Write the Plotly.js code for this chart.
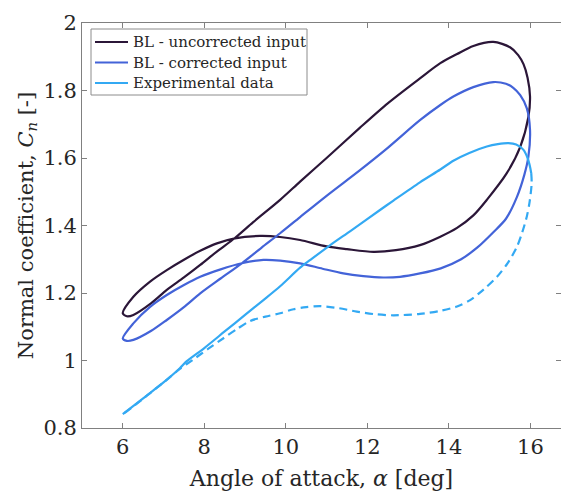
<!DOCTYPE html>
<html>
<head>
<meta charset="utf-8">
<script src="https://cdn.plot.ly/plotly-3.0.1.min.js"></script>
<style>html,body{margin:0;padding:0;background:#fff;}#chart{width:561px;height:491px;}</style>
</head>
<body>
<div id="chart"></div>
<script>
// BL - uncorrected input (closed hysteresis loop)
const uncorrAlpha = [6.0, 6.1, 6.26, 6.7, 7.08, 7.5, 7.9, 8.3, 8.75, 9.2, 9.86, 10.35, 11.0, 11.82, 12.5, 13.29, 13.79, 14.2, 14.6, 15.09, 15.5, 15.7, 15.83, 15.93, 15.99, 15.95, 15.75, 15.42, 14.93, 14.6, 14.2, 13.79, 13.29, 12.7, 12.15, 11.5, 11.0, 10.35, 9.86, 9.37, 8.75, 8.31, 7.9, 7.49, 7.08, 6.67, 6.26, 6.0];
const uncorrCn = [1.14, 1.131, 1.135, 1.170, 1.209, 1.246, 1.283, 1.322, 1.363, 1.41, 1.476, 1.530, 1.60, 1.690, 1.762, 1.836, 1.881, 1.908, 1.932, 1.944, 1.928, 1.905, 1.878, 1.838, 1.782, 1.722, 1.633, 1.555, 1.476, 1.43, 1.393, 1.367, 1.342, 1.327, 1.322, 1.330, 1.338, 1.357, 1.366, 1.369, 1.362, 1.347, 1.325, 1.298, 1.268, 1.234, 1.189, 1.14];

// BL - corrected input (closed hysteresis loop)
const corrAlpha = [6.0, 6.1, 6.26, 6.7, 7.08, 7.5, 7.9, 8.4, 8.92, 9.4, 9.86, 10.35, 11.0, 11.82, 12.5, 13.29, 13.79, 14.11, 14.6, 15.09, 15.4, 15.58, 15.75, 15.91, 15.99, 15.95, 15.85, 15.67, 15.4, 15.09, 14.7, 14.3, 13.8, 13.29, 12.8, 12.39, 11.9, 11.41, 10.9, 10.35, 9.86, 9.45, 8.92, 8.4, 7.9, 7.49, 7.08, 6.67, 6.26, 6.0];
const corrCn = [1.065, 1.058, 1.061, 1.088, 1.120, 1.158, 1.199, 1.243, 1.288, 1.334, 1.377, 1.425, 1.488, 1.564, 1.63, 1.712, 1.757, 1.782, 1.810, 1.825, 1.820, 1.808, 1.786, 1.748, 1.683, 1.604, 1.55, 1.485, 1.42, 1.38, 1.335, 1.300, 1.273, 1.258, 1.248, 1.246, 1.250, 1.258, 1.272, 1.288, 1.296, 1.298, 1.288, 1.27, 1.248, 1.223, 1.194, 1.159, 1.110, 1.065];

// Experimental data - upstroke (solid)
const expUpAlpha = [6.0, 6.5, 7.0, 7.4, 7.57, 8.0, 8.5, 9.0, 9.45, 9.86, 10.35, 10.6, 11.09, 11.6, 12.31, 12.64, 13.29, 13.79, 14.11, 14.5, 14.93, 15.2, 15.46, 15.65, 15.83, 15.93, 15.99, 16.02];
const expUpCn = [0.841, 0.888, 0.935, 0.977, 0.998, 1.037, 1.086, 1.135, 1.179, 1.220, 1.275, 1.298, 1.342, 1.385, 1.446, 1.474, 1.528, 1.566, 1.592, 1.615, 1.634, 1.641, 1.644, 1.640, 1.624, 1.60, 1.574, 1.555];

// Experimental data - downstroke (dashed)
const expDownAlpha = [16.02, 16.03, 15.98, 15.91, 15.8, 15.67, 15.45, 15.18, 14.85, 14.52, 14.2, 13.79, 13.29, 12.64, 12.2, 11.74, 11.3, 10.84, 10.5, 10.19, 9.86, 9.5, 9.12, 8.8, 8.47, 8.1, 7.73, 7.4, 7.0, 6.5, 6.0];
const expDownCn = [1.555, 1.525, 1.47, 1.426, 1.38, 1.337, 1.29, 1.248, 1.21, 1.179, 1.16, 1.147, 1.138, 1.134, 1.137, 1.145, 1.155, 1.161, 1.158, 1.152, 1.140, 1.13, 1.117, 1.093, 1.066, 1.035, 1.003, 0.975, 0.935, 0.887, 0.84];

const seriesNames = ["BL - uncorrected input", "BL - corrected input", "Experimental data"];
const xTickVals = [6, 8, 10, 12, 14, 16];
const xTickText = ["6", "8", "10", "12", "14", "16"];
const yTickVals = [0.8, 1.0, 1.2, 1.4, 1.6, 1.8, 2.0];
const yTickText = ["0.8", "1", "1.2", "1.4", "1.6", "1.8", "2"];

const cDark = "#2b1638";
const cBlue = "#4363d8";
const cLight = "#33a9f3";
const colors = [cDark, cBlue, cLight];
const FONT = "'DejaVu Serif', 'Liberation Serif', serif";

const traces = [
  {x: uncorrAlpha, y: uncorrCn, name: seriesNames[0], mode: "lines",
   line: {color: cDark, width: 2.2, shape: "spline", smoothing: 0.8}},
  {x: corrAlpha, y: corrCn, name: seriesNames[1], mode: "lines",
   line: {color: cBlue, width: 2.2, shape: "spline", smoothing: 0.8}},
  {x: expUpAlpha, y: expUpCn, name: seriesNames[2], mode: "lines",
   line: {color: cLight, width: 2.2, shape: "spline", smoothing: 0.8}},
  {x: expDownAlpha, y: expDownCn, name: seriesNames[2] + " (down)", mode: "lines",
   line: {color: cLight, width: 2.2, dash: "8px,5px", shape: "spline", smoothing: 0.8}}
];

// plot-area geometry in pixels (for the hand-built legend box)
const M = {l: 82, r: 0, t: 23, b: 63};
const W = 561, H = 491;
const pw = W - M.l - M.r, ph = H - M.t - M.b;
const px = v => (v - M.l) / pw;
const py = v => 1 - (v - M.t) / ph;

const shapes = [
  {type: "rect", xref: "paper", yref: "paper", x0: px(91), x1: px(307), y0: py(29), y1: py(95),
   line: {color: "#8c8c8c", width: 1}, fillcolor: "#ffffff", layer: "above"}
];
const annotations = [];
const rowY = [42, 62.5, 83];
seriesNames.forEach((n, i) => {
  shapes.push({type: "line", xref: "paper", yref: "paper", x0: px(95), x1: px(128), y0: py(rowY[i]), y1: py(rowY[i]),
    line: {color: colors[i], width: 2.2}, layer: "above"});
  annotations.push({xref: "paper", yref: "paper", x: px(131), y: py(rowY[i]), xanchor: "left", yanchor: "middle",
    text: n, showarrow: false, font: {family: FONT, size: 15, color: "#262626"}});
});

const axisCommon = {
  showgrid: false, zeroline: false, showline: true, linecolor: "#808080", linewidth: 1,
  mirror: "ticks", ticks: "inside", ticklen: 5, tickcolor: "#808080", tickwidth: 1,
  tickfont: {family: FONT, size: 21, color: "#262626"}
};

const layout = {
  width: W, height: H,
  margin: M,
  paper_bgcolor: "#fff", plot_bgcolor: "#fff",
  font: {family: FONT, color: "#262626"},
  showlegend: false,
  xaxis: Object.assign({}, axisCommon, {
    range: [5, 16.75], tickmode: "array", tickvals: xTickVals, ticktext: xTickText,
    title: {text: "Angle of attack, <i>α</i> [deg]", font: {family: FONT, size: 22, color: "#262626"}, standoff: 12}
  }),
  yaxis: Object.assign({}, axisCommon, {
    range: [0.8, 2], tickmode: "array", tickvals: yTickVals, ticktext: yTickText,
    title: {text: "Normal coefficient, <i>C</i><sub><i>n</i></sub> [-]", font: {family: FONT, size: 21, color: "#262626"}, standoff: 4}
  }),
  shapes: shapes,
  annotations: annotations
};

Plotly.newPlot("chart", traces, layout, {displayModeBar: false, staticPlot: true});
</script>
</body>
</html>
